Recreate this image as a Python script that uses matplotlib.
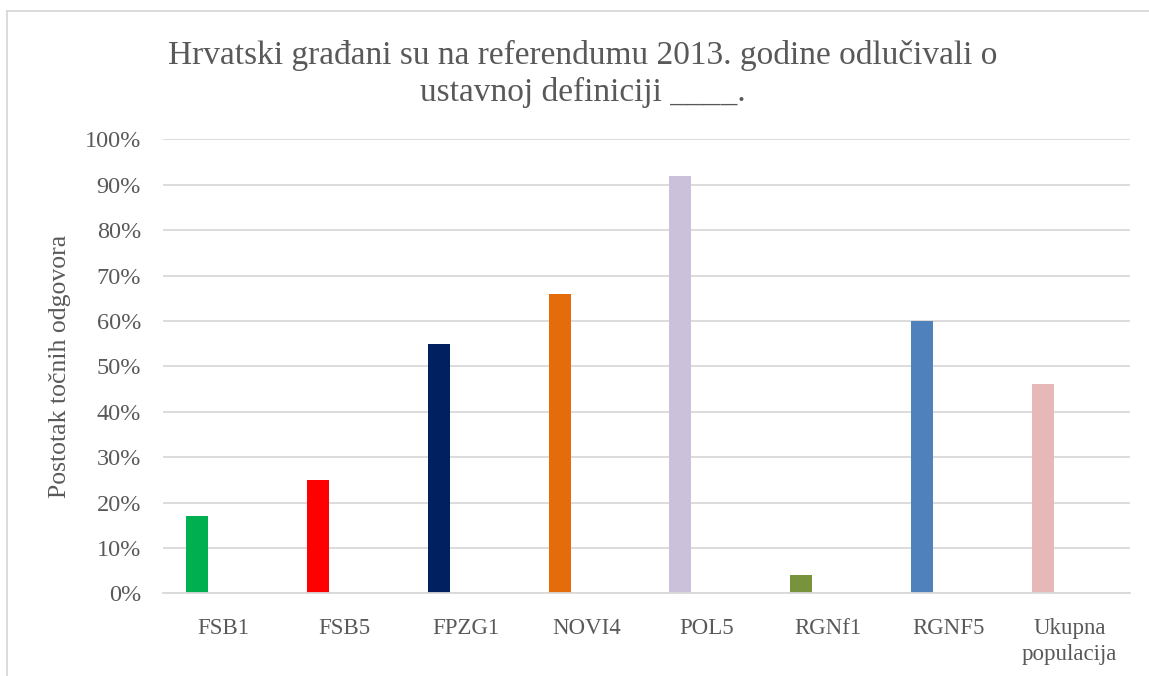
import numpy as np
import matplotlib.pyplot as plt
from matplotlib.lines import Line2D
from matplotlib.ticker import PercentFormatter

# ==================================================
# Data
# ==================================================

categories = ["FSB1", "FSB5", "FPZG1", "NOVI4", "POL5", "RGNf1", "RGNF5", "Ukupna\npopulacija"]
values = [17, 25, 55, 66, 92, 4, 60, 46]   # % correct answers
colors = ["#00B050", "#FF0000", "#002060", "#E46C0A",
          "#CCC1DA", "#77933C", "#4F81BD", "#E6B9B8"]

title = "Hrvatski građani su na referendumu 2013. godine odlučivali o\nustavnoj definiciji ____."
ylabel = "Postotak točnih odgovora"

text_col = "#595959"
grid_col = "#D9D9D9"
font = ["Liberation Serif", "DejaVu Serif"]

plt.rcParams["font.family"] = font

# ==================================================
# Plot
# ==================================================

fig = plt.figure(figsize=(11.49, 6.76), dpi=100)
ax = fig.add_axes([0.1421, 0.1223, 0.8414, 0.6716])

x = np.arange(len(categories))
ax.bar(x - 0.221, values, width=0.182, color=colors, zorder=3)

ax.set_xlim(-0.5, len(categories) - 0.5)
ax.set_ylim(0, 100)
ax.set_yticks(np.arange(0, 101, 10))
ax.yaxis.set_major_formatter(PercentFormatter(decimals=0))
ax.set_xticks(x)
ax.set_xticklabels(categories, linespacing=1.3)

ax.grid(axis="y", color=grid_col, linewidth=1.3, zorder=0)
for s in ["top", "right", "left"]:
    ax.spines[s].set_visible(False)
ax.spines["bottom"].set_color(grid_col)
ax.spines["bottom"].set_linewidth(1.3)
ax.spines["bottom"].set_zorder(4)

ax.tick_params(axis="y", length=0, labelsize=17.5, labelcolor=text_col, pad=16)
ax.tick_params(axis="x", length=0, labelsize=16.5, labelcolor=text_col, pad=18)

ax.set_ylabel(ylabel, fontsize=18.5, color=text_col, labelpad=10)

fig.text(0.5074, 0.8905, title, ha="center", va="center",
         fontsize=24, color=text_col, linespacing=1.25)

# chart area border (top and left edges visible)
fig.add_artist(Line2D([7 / 1149, 1.0], [1 - 11 / 676, 1 - 11 / 676],
                      transform=fig.transFigure, color=grid_col, linewidth=1.3))
fig.add_artist(Line2D([7 / 1149, 7 / 1149], [0.0, 1 - 11 / 676],
                      transform=fig.transFigure, color=grid_col, linewidth=1.3))

fig.savefig("out.png", dpi=100)
